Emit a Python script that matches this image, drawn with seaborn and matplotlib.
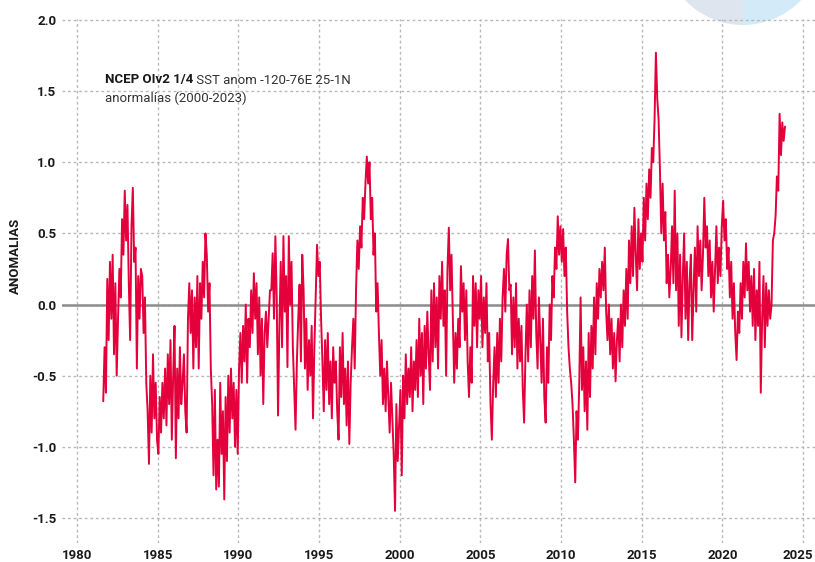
import numpy as np
import pandas as pd
import matplotlib
matplotlib.use("Agg")
import matplotlib.pyplot as plt
from matplotlib.patches import Wedge
from matplotlib.transforms import IdentityTransform, ScaledTranslation
import seaborn as sns

# monthly SST anomalies (Aug 1981 -> Nov 2023)
anom_1981_1989 = [
    -0.68, -0.30, -0.62, 0.18, -0.25,
    0.30, -0.10, 0.35, -0.35, 0.15, -0.50, -0.10, 0.25, 0.05, 0.60, 0.35, 0.80,
    0.45, 0.70, 0.15, -0.25, 0.55, 0.82, 0.30, 0.40, -0.45, 0.20, -0.10, 0.25,
    0.20, -0.20, 0.05, -0.55, -0.75, -1.12, -0.50, -0.90, -0.35, -0.80, -0.55, -0.95,
    -1.05, -0.65, -0.90, -0.55, -0.80, -0.45, -0.85, -0.35, -0.70, -0.25, -0.95, -0.50,
    -0.15, -1.08, -0.45, -0.80, -0.30, -0.70, -0.55, -0.35, -0.75, -0.90, -0.10, 0.15,
    -0.20, 0.10, -0.45, 0.05, -0.30, 0.20, -0.45, 0.15, -0.10, 0.30, 0.05, 0.50,
    0.35, -0.05, 0.15, -0.45, -0.70, -1.20, -0.60, -1.30, -0.95, -1.28, -0.55, -1.05,
    -0.75, -1.37, -0.65, -1.10, -0.50, -0.90, -0.45, -0.80, -0.55, -1.00, -0.60, -1.05,
]
anom_1990_1999 = [
    -0.45, -0.20, -0.55, -0.15, -0.40, 0.00, -0.55, -0.10, -0.30, 0.10, -0.20, 0.22,
    -0.10, 0.15, -0.35, 0.05, -0.50, -0.10, -0.70, -0.20, -0.05, -0.30, -0.10, 0.10,
    0.10, 0.36, -0.10, 0.48, 0.05, -0.78, -0.15, 0.30, -0.30, 0.48, -0.05, 0.20,
    -0.44, 0.48, 0.00, 0.30, -0.30, -0.60, -0.88, -0.40, -0.10, 0.14, -0.40, 0.35,
    0.10, -0.45, -0.10, -0.60, -0.25, -0.50, -0.15, -0.80, -0.30, 0.05, 0.42, 0.20,
    0.30, -0.10, -0.40, -0.75, -0.25, -0.60, -0.20, -0.70, -0.40, -0.80, -0.30, -0.55,
    -0.40, -0.75, -0.95, -0.30, -0.65, -0.20, -0.70, -0.45, -0.85, -0.40, -0.98, -0.55,
    -0.30, -0.10, -0.45, 0.10, 0.45, 0.25, 0.55, 0.40, 0.75, 0.60, 0.85, 1.04,
    0.85, 1.00, 0.60, 0.75, 0.35, 0.50, -0.05, 0.15, -0.20, -0.50, -0.25, -0.70,
    -0.45, -0.75, -0.40, -0.65, -0.90, -0.55, -0.80, -1.05, -1.45, -0.70, -1.10, -0.85,
]
anom_2000_2009 = [
    -0.60, -1.20, -0.50, -0.80, -0.35, -0.70, -0.45, -0.65, -0.30, -0.75, -0.40, -0.60,
    -0.25, -0.65, -0.10, -0.50, -0.20, -0.70, -0.15, -0.45, -0.05, -0.35, -0.60, 0.10,
    -0.40, 0.15, -0.30, 0.05, -0.45, 0.20, -0.10, 0.30, -0.15, 0.10, -0.50, 0.25,
    0.54, 0.10, 0.35, -0.10, -0.55, -0.20, -0.45, -0.10, -0.30, 0.27, -0.05, 0.15,
    -0.25, 0.10, -0.40, -0.65, -0.30, -0.55, 0.20, -0.15, 0.15, -0.30, 0.10, -0.10,
    0.20, -0.30, 0.05, -0.20, 0.15, -0.40, -0.20, -0.70, -0.95, -0.55, -0.30, -0.65,
    -0.20, -0.55, -0.10, -0.40, 0.05, 0.25, -0.05, 0.35, 0.46, 0.10, 0.14, -0.35,
    0.05, -0.30, 0.15, -0.45, -0.10, -0.40, -0.15, -0.60, -0.83, -0.35, 0.00, -0.40,
    0.10, -0.30, 0.20, -0.10, 0.38, -0.20, -0.45, 0.05, -0.25, -0.55, -0.10, -0.65,
    -0.83, -0.30, -0.55, 0.00, -0.25, 0.20, 0.05, 0.40, 0.25, 0.62, 0.35, 0.55,
]
anom_2010_2019 = [
    0.30, 0.53, 0.20, 0.40, -0.05, -0.30, -0.45, -0.55, -0.70, -0.95, -1.25, -0.75,
    -0.95, -0.55, 0.05, -0.60, -0.30, -0.75, -0.40, -0.88, -0.20, -0.65, -0.15, -0.45,
    0.05, -0.35, 0.15, -0.10, 0.25, 0.05, 0.30, 0.10, 0.40, -0.05, -0.25, 0.00,
    -0.35, -0.10, -0.45, -0.20, -0.54, -0.25, -0.10, -0.40, 0.00, -0.30, 0.10, -0.15,
    0.25, -0.10, 0.45, 0.15, 0.55, 0.20, 0.68, 0.35, 0.10, 0.60, 0.25, 0.50,
    0.30, 0.75, 0.45, 0.85, 0.60, 0.95, 0.75, 1.10, 1.00, 1.30, 1.77, 1.45,
    1.30, 0.95, 0.50, 0.85, 0.45, 0.65, 0.15, 0.35, 0.05, 0.25, 0.55, 0.15,
    0.80, 0.10, 0.50, -0.15, 0.35, -0.23, 0.20, 0.50, -0.10, 0.30, -0.25, 0.15,
    0.35, -0.25, 0.10, 0.40, -0.05, 0.55, 0.20, 0.45, 0.10, 0.35, 0.75, 0.40,
    0.55, 0.20, 0.45, 0.05, 0.30, -0.05, 0.25, 0.55, 0.15, 0.40, 0.20, 0.55,
]
anom_2020_2023 = [
    0.73, 0.45, 0.60, 0.25, 0.40, 0.05, 0.30, -0.10, 0.15, -0.20, -0.39, -0.05,
    -0.20, 0.15, -0.10, 0.30, 0.05, 0.43, 0.10, 0.30, -0.05, 0.20, -0.15, 0.25,
    -0.25, 0.10, -0.15, 0.30, -0.62, -0.10, 0.20, -0.30, 0.15, -0.15, 0.10, -0.10,
    0.00, 0.45, 0.50, 0.62, 0.90, 0.80, 1.34, 1.05, 1.28, 1.15, 1.25,
]

y_ticks = [-1.5, -1.0, -0.5, 0.0, 0.5, 1.0, 1.5, 2.0]
x_ticks = [1980, 1985, 1990, 1995, 2000, 2005, 2010, 2015, 2020, 2025]

anom = anom_1981_1989 + anom_1990_1999 + anom_2000_2009 + anom_2010_2019 + anom_2020_2023
dates = pd.date_range("1981-08-01", periods=len(anom), freq="MS")
df = pd.DataFrame({
    "year": dates.year + (dates.month - 0.5) / 12,
    "anom": anom,
})

sns.set_style("white")
plt.rcParams["font.family"] = ["Roboto", "DejaVu Sans"]

fig = plt.figure(figsize=(8.15, 5.62), dpi=100)
ax = fig.add_axes([0.0761, 0.0338, 0.924, 0.932])
ax.set_facecolor("none")

# faint logo in the top right corner
fig.add_artist(Wedge((743, 617), 80, 90, 270, transform=IdentityTransform(),
                     facecolor="#dfe5ee", edgecolor="none", zorder=-1))
fig.add_artist(Wedge((743, 617), 80, 270, 90, transform=IdentityTransform(),
                     facecolor="#d3eaf8", edgecolor="none", zorder=-1))

ax.axhline(0, color="#8c8c8c", lw=1.8, zorder=1.5)
sns.lineplot(data=df, x="year", y="anom", ax=ax, color="#e4003a",
             linewidth=1.4, estimator=None, zorder=2)

ax.set_xlim(1979.07, 2025.74)
ax.set_ylim(-1.676, 2.005)
ax.set_yticks(y_ticks, [f"{v:.1f}" for v in y_ticks], fontweight="bold")
ax.set_xticks(x_ticks, [str(v) for v in x_ticks], fontweight="bold")
ax.tick_params(length=0, labelsize=9.5, pad=4, colors="#1a1a1a")
ax.grid(True, linestyle=(0, (2, 2)), color="#b8b8b8", linewidth=1)
ax.set_axisbelow(True)
ax.set_xlabel("")
ax.set_ylabel("")
for s in ax.spines.values():
    s.set_visible(False)

# last year label sits a little left so it stays inside the picture
last = ax.get_xticklabels()[-1]
last.set_transform(last.get_transform() + ScaledTranslation(-0.05, 0, fig.dpi_scale_trans))

fig.text(15 / 815, 1 - 256 / 562, "ANOMALIAS", rotation=90, fontweight="bold",
         fontsize=9.5, ha="center", va="center", color="#1a1a1a")

t1 = fig.text(105 / 815, 1 - 80 / 562, "NCEP OIv2 1/4", fontweight="bold",
              fontsize=9.5, va="center", color="#1a1a1a")
ax.annotate(" SST anom -120-76E 25-1N", xy=(1, 0), xycoords=t1, va="bottom",
            fontsize=9.5, color="#333333")
fig.text(105 / 815, 1 - 98 / 562, "anormalías (2000-2023)", fontsize=9.5,
         va="center", color="#333333")

fig.savefig("out.png", dpi=100)
